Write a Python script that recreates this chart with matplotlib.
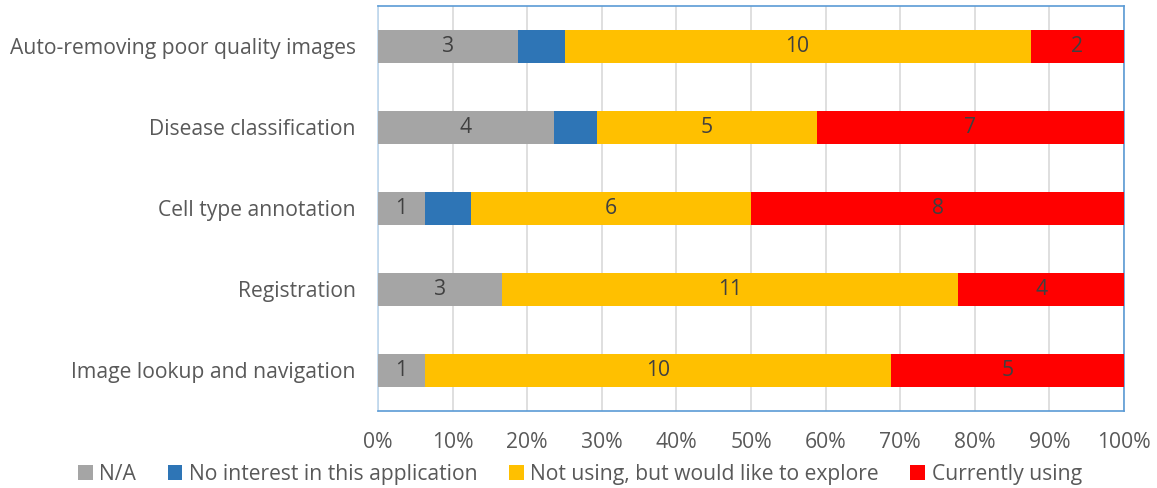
import matplotlib.pyplot as plt
import numpy as np

categories = ['Auto-removing poor quality images', 'Disease classification',
              'Cell type annotation', 'Registration', 'Image lookup and navigation']
series = ['N/A', 'No interest in this application',
          'Not using, but would like to explore', 'Currently using']
na = [3, 4, 1, 3, 1]
no_interest = [1, 1, 1, 0, 0]
explore = [10, 5, 6, 11, 10]
using = [2, 7, 8, 4, 5]
ticks = [0, 10, 20, 30, 40, 50, 60, 70, 80, 90, 100]

colors = ['#A5A5A5', '#2E75B6', '#FFC000', '#FF0000']
label_series = [True, False, True, True]   # blue segments carry no count label
TEXT = '#595959'
FS = 15.2

plt.rcParams['font.family'] = ['Open Sans', 'DejaVu Sans']

counts = np.array([na, no_interest, explore, using], dtype=float)
totals = counts.sum(axis=0)
pct = counts / totals * 100

fig = plt.figure(figsize=(11.57, 4.88), dpi=100)
ax = fig.add_axes([0.3267, 0.158, 0.6448, 0.8297])

y = np.arange(len(categories))
left = np.zeros(len(categories))
handles = []
for i, name in enumerate(series):
    bars = ax.barh(y, pct[i], left=left, height=0.4, color=colors[i],
                   label=name, zorder=3)
    handles.append(bars)
    if label_series[i]:
        for j in range(len(categories)):
            if counts[i, j] > 0:
                ax.text(left[j] + pct[i, j] / 2, y[j], f'{int(counts[i, j])}',
                        ha='center', va='center', fontsize=FS, color='#404040',
                        zorder=4)
    left += pct[i]

ax.set_ylim(len(categories) - 0.5, -0.5)
ax.set_xlim(0, 100)
ax.set_yticks(y)
ax.set_yticklabels(categories, fontsize=FS, color=TEXT)
ax.set_xticks(ticks)
ax.set_xticklabels([f'{t}%' for t in ticks], fontsize=FS, color=TEXT)
ax.tick_params(length=0)
ax.tick_params(axis='x', pad=15.5)
ax.tick_params(axis='y', pad=16)
ax.grid(axis='x', color='#D9D9D9', linewidth=1.2, zorder=0)
for s in ax.spines.values():
    s.set_color('#5B9BD5')
    s.set_linewidth(1.2)
ax.spines['left'].set_color('#BDD7EE')

fig.legend(handles=handles, loc='lower left', bbox_to_anchor=(0.051, -0.033),
           ncol=4, frameon=False, fontsize=FS, handlelength=0.7,
           handleheight=0.7, handletextpad=0.3, columnspacing=1.5,
           labelcolor=TEXT)

fig.savefig('out.png', dpi=100)
